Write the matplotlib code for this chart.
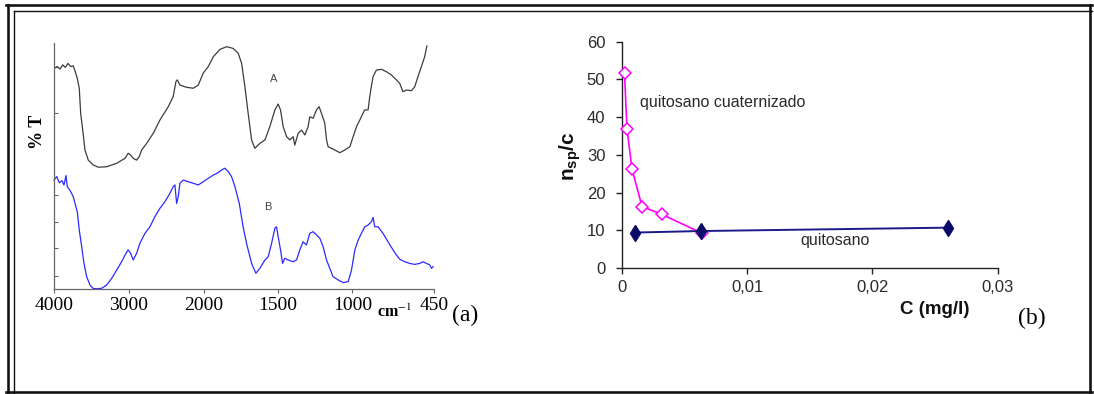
import numpy as np
import matplotlib
matplotlib.use("Agg")
import matplotlib.pyplot as plt
from matplotlib.lines import Line2D

# ---------------- data: panel (a) FTIR spectra ----------------
wn_A = [4000, 3956, 3920, 3884, 3849, 3813, 3777, 3743, 3716, 3689, 3663, 3644, 3617, 3587, 3543,
        3476, 3409, 3298, 3164, 3054, 3010, 2978, 2943, 2898, 2863, 2831, 2764, 2676, 2587, 2476,
        2410, 2374, 2356, 2320, 2231, 2143, 2076, 2010, 1971, 1937, 1892, 1847, 1803, 1769, 1746,
        1724, 1702, 1679, 1657, 1623, 1589, 1556, 1522, 1500, 1484, 1466, 1443, 1421, 1399, 1388,
        1365, 1342, 1320, 1298, 1287, 1264, 1242, 1224, 1208, 1186, 1174, 1163, 1141, 1118, 1085,
        1051, 1017, 995, 972, 950, 917, 894, 883, 861, 838, 804, 770, 737, 703, 681, 659, 636, 602,
        580, 558, 535, 513, 498]
T_A = [89.7, 90.4, 89.4, 91.1, 90.1, 91.7, 90.4, 90.7, 88.3, 85.6, 81.6, 71.4, 64.6, 56.5, 52.4,
       50.4, 49.5, 49.7, 51.1, 53.1, 55.2, 54.5, 53.1, 52.4, 53.8, 56.5, 59.2, 63.3, 68.7, 74.1,
       78.2, 84.3, 85.0, 82.9, 82.0, 81.6, 82.9, 87.7, 90.4, 94.4, 97.4, 98.5, 97.8, 95.8, 91.7,
       82.2, 71.4, 60.6, 57.2, 59.2, 60.6, 66.0, 72.8, 75.2, 72.8, 66.0, 61.9, 60.6, 61.9, 58.5,
       63.3, 64.6, 62.6, 66.0, 70.0, 69.4, 72.8, 74.1, 71.4, 67.4, 60.6, 57.8, 57.2, 56.5, 55.4,
       56.5, 57.8, 61.9, 66.0, 68.7, 72.8, 72.8, 78.2, 86.3, 89.0, 89.3, 88.3, 87.0, 85.0, 83.6,
       80.2, 80.9, 80.6, 82.2, 86.3, 90.4, 94.4, 98.8]

wn_B = [4000, 3964, 3929, 3893, 3867, 3840, 3823, 3796, 3769, 3743,
        3720, 3689, 3663, 3631, 3600, 3564, 3520, 3476, 3423, 3364,
        3298, 3231, 3164, 3098, 3040, 3010, 2978, 2943, 2898, 2854,
        2787, 2720, 2654, 2587, 2520, 2454, 2410, 2387, 2364, 2343,
        2320, 2276, 2210, 2143, 2076, 2010, 1971, 1937, 1904, 1881,
        1859, 1836, 1814, 1791, 1762, 1736, 1713, 1679, 1650, 1623,
        1589, 1567, 1544, 1522, 1511, 1500, 1484, 1470, 1455, 1433,
        1399, 1376, 1354, 1332, 1309, 1287, 1264, 1242, 1219, 1197,
        1174, 1152, 1130, 1096, 1062, 1028, 1006, 983, 961, 939,
        916, 894, 871, 861, 849, 827, 793, 760, 726, 703,
        681, 647, 614, 580, 546, 524, 501, 479, 467, 456]
T_B = [44.3, 45.7, 43.2, 44.0, 42.3, 46.1, 41.6, 40.5, 39.1, 37.5,
       34.8, 31.4, 24.0, 17.2, 10.4, 5.0, 1.6, 0.2, 0.1, 0.3,
       1.6, 4.3, 7.7, 11.1, 14.5, 15.9, 14.5, 11.8, 14.5, 18.6,
       22.6, 25.3, 29.4, 32.8, 35.5, 38.9, 41.6, 42.3, 34.8, 37.5,
       43.0, 44.3, 43.6, 43.0, 42.3, 43.6, 45.0, 46.3, 47.3, 48.4,
       49.1, 47.7, 45.7, 41.6, 34.8, 25.3, 18.6, 10.4, 6.4, 8.4,
       11.8, 13.1, 18.6, 24.7, 25.3, 21.3, 15.9, 10.4, 12.5, 11.8,
       11.1, 11.8, 15.9, 19.2, 17.9, 22.6, 23.3, 22.0, 20.6, 17.2,
       11.8, 8.4, 5.0, 3.7, 2.6, 3.0, 7.7, 15.9, 19.9, 22.6,
       25.3, 26.0, 27.4, 29.1, 25.3, 25.3, 22.6, 19.2, 15.9, 13.8,
       12.1, 11.1, 10.4, 10.0, 10.4, 11.1, 10.4, 9.8, 8.4, 9.1]

xticks_a = [4000, 3000, 2000, 1500, 1000, 450]
xticklabels_a = ["4000", "3000", "2000", "1500", "1000", "450"]
yminor_a = [5.3, 16.7, 27.2, 38.2, 71.5, 90.2]

# ---------------- data: panel (b) reduced viscosity ----------------
c_quat = [0.0002, 0.0004, 0.0008, 0.0016, 0.0032, 0.0064]
visc_quat = [51.6, 36.8, 26.2, 16.3, 14.2, 9.2]
c_quit = [0.001, 0.0063, 0.026]
visc_quit = [9.4, 9.8, 10.7]
xticks_b = [0, 0.01, 0.02, 0.03]
xticklabels_b = ["0", "0,01", "0,02", "0,03"]
yticks_b = [0, 10, 20, 30, 40, 50, 60]

W, H = 1094, 394
fig = plt.figure(figsize=(W / 100, H / 100), dpi=100)
fig.patch.set_facecolor("white")

plt.rcParams['mathtext.fontset'] = 'custom'
plt.rcParams['mathtext.bf'] = 'Liberation Sans:bold'
plt.rcParams['mathtext.rm'] = 'Liberation Sans'
plt.rcParams['mathtext.it'] = 'Liberation Sans:italic'


def fx(px):
    return px / W


def fy(py):
    return 1 - py / H


# ---------------- frame ----------------
frame = [((8, 8), (5, 393), 2.6), ((6, 1092), (5.3, 5.3), 2.6),
         ((13.7, 13.7), (10.8, 393), 1.4), ((13.7, 1092), (10.8, 10.8), 1.4),
         ((6, 1092), (392, 392), 2.6), ((1090, 1090), (5, 393), 2.6)]
for xs, ys, lw in frame:
    fig.add_artist(Line2D([fx(x) for x in xs], [fy(y) for y in ys], lw=lw * 0.72,
                          color="#111111", transform=fig.transFigure))

# ---------------- panel (a) ----------------
K = 1.98  # expansion of the region below 2000 cm-1


def fwd(w):
    w = np.asarray(w, dtype=float)
    return np.where(w <= 2000, K * w, K * 2000 + (w - 2000))


def inv(u):
    u = np.asarray(u, dtype=float)
    return np.where(u <= K * 2000, u / K, u - K * 2000 + 2000)


ax1 = fig.add_axes([fx(54), fy(289), 380 / W, 246 / H])
ax1.set_xscale("function", functions=(fwd, inv))
ax1.set_xlim(4000, 450)
ax1.set_ylim(0, 100)
ax1.plot(wn_A, T_A, color="#3c3c3c", lw=0.9)
ax1.plot(wn_B, T_B, color="#2a2aff", lw=0.9, clip_on=False)
for s in ("top", "right"):
    ax1.spines[s].set_visible(False)
for s in ("left", "bottom"):
    ax1.spines[s].set_color("#666666")
    ax1.spines[s].set_linewidth(0.9)
ax1.set_xticks(xticks_a)
ax1.set_xticklabels(xticklabels_a, family="Liberation Serif", fontsize=14)
ax1.xaxis.set_minor_locator(matplotlib.ticker.NullLocator())
ax1.tick_params(axis="x", direction="out", length=3, width=0.8, color="#666666", pad=3)
ax1.set_yticks(yminor_a)
ax1.set_yticklabels([])
ax1.tick_params(axis="y", direction="in", length=3, width=0.8, color="#666666")
ax1.text(1529, 85.2, "A", fontsize=8, color="#444444", ha="center", va="center",
         family="Liberation Sans")
ax1.text(1567, 33.5, "B", fontsize=8, color="#444444", ha="center", va="center",
         family="Liberation Sans")

fig.text(fx(37.5), fy(132), "% T", rotation=90, ha="center", va="center",
         family="Liberation Serif", fontsize=13, fontweight="bold")
fig.text(fx(377), fy(317), r"cm$^{-1}$", family="Liberation Serif", fontsize=11.5,
         fontweight="bold", va="baseline", ha="left", math_fontfamily="stix")
fig.text(fx(465), fy(315), "(a)", family="Liberation Serif", fontsize=17, ha="center", va="center")

# ---------------- panel (b) ----------------
ax2 = fig.add_axes([fx(622), fy(268), 375.7 / W, 226.3 / H])
ax2.set_xlim(0, 0.03)
ax2.set_ylim(0, 60)
ax2.plot(c_quat, visc_quat, color="#ff00ff", lw=1.2, marker="D", ms=6.5,
         mfc="white", mec="#ff00ff", mew=1.1, clip_on=False, zorder=3)
ax2.plot(c_quit, visc_quit, color="#1a1a8a", lw=1.4, marker="d", ms=8,
         mfc="#0a0a6a", mec="#0a0a6a", clip_on=False, zorder=4)
for s in ("top", "right"):
    ax2.spines[s].set_visible(False)
for s in ("left", "bottom"):
    ax2.spines[s].set_color("#222222")
    ax2.spines[s].set_linewidth(1.0)
ax2.set_xticks(xticks_b)
ax2.set_xticklabels(xticklabels_b)
ax2.set_yticks(yticks_b)
ax2.tick_params(axis="both", direction="out", length=4.5, width=1.0, color="#222222",
                labelsize=12, labelcolor="#2a2a2a")
ax2.tick_params(axis="y", pad=7.5)
ax2.tick_params(axis="x", pad=3.8)
for lab in ax2.get_xticklabels() + ax2.get_yticklabels():
    lab.set_family("Liberation Sans")

ax2.text(0.0014, 44, "quitosano cuaternizado", fontsize=11.5, color="#2a2a2a",
         family="Liberation Sans", ha="left", va="center")
ax2.text(0.017, 7.2, "quitosano", fontsize=11.5, color="#2a2a2a",
         family="Liberation Sans", ha="center", va="center")

fig.text(fx(570), fy(156), r"$\mathbf{n_{sp}/c}$", rotation=90, ha="center", va="center",
         fontsize=15, color="#111111")
fig.text(fx(935), fy(309), "C (mg/l)", family="Liberation Sans", fontsize=13.5,
         fontweight="bold", ha="center", va="center", color="#111111")
fig.text(fx(1032), fy(318), "(b)", family="Liberation Serif", fontsize=17, ha="center",
         va="center")

fig.savefig("out.png", dpi=100, facecolor="white")
